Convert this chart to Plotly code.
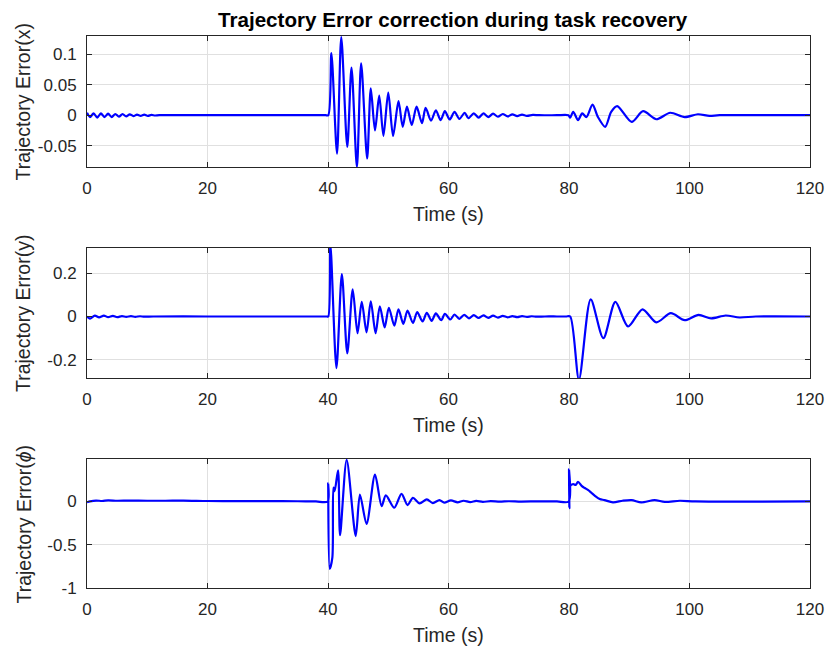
import plotly.graph_objects as go

# ---------------- data ----------------
x_time = [0, 0.5, 1.1, 1.7, 2.3, 2.9, 3.5, 4.1, 4.7, 5.3, 5.9, 6.5, 7.1, 7.7, 8.3, 8.9, 9.5, 10.1,
          10.7, 11.3, 12, 20, 30, 38, 39.6, 40.05,
          40.56, 41.5, 42.2, 43.2, 43.9, 44.8, 45.5, 46.5, 47.1, 47.8, 48.5, 49.2, 50.0, 50.8,
          51.7, 52.4, 53.1, 53.9, 54.7, 55.6, 56.2, 57.1, 57.9, 58.7, 59.4, 60.2, 61.0, 61.8,
          62.7, 63.3, 64.2, 65.0, 65.8, 66.6, 67.4, 68.2, 69.0, 69.8, 70.6, 71.4, 72.2, 73.0,
          74.0, 75.0, 78, 79.9,
          80.2, 80.7, 81.5, 82.2, 82.9, 83.9, 84.8, 86.0, 87.0, 88.0, 90.4, 92.3, 94.5, 96.8,
          99.2, 101.4, 103.3, 105, 120]
x_err = [0.004, -0.003, 0.003, -0.004, 0.003, -0.003, 0.0025, -0.003, 0.002, -0.0025, 0.002, -0.002,
         0.0015, -0.0015, 0.001, -0.001, 0.001, -0.001, 0.0005, -0.0005, 0, 0, 0, 0, 0, 0,
         0.102, -0.063, 0.128, -0.052, 0.078, -0.085, 0.085, -0.071, 0.044, -0.025, 0.032, -0.034,
         0.037, -0.034, 0.023, -0.019, 0.014, -0.016, 0.014, -0.013, 0.012, -0.009, 0.008, -0.008,
         0.0066, -0.007, 0.0055, -0.006, 0.004, -0.005, 0.003, -0.004, 0.003, -0.003, 0.0025,
         -0.0025, 0.002, -0.002, 0.0015, -0.0015, 0.001, -0.001, 0.0005, 0, 0, 0,
         -0.004, 0.0055, -0.008, 0.003, -0.003, 0.0175, -0.003, -0.019, 0.0055, 0.015, -0.011,
         0.0066, -0.0066, 0.004, -0.003, 0.0016, -0.001, 0, 0]

y_time = [0, 0.5, 1.3, 2.0, 2.8, 3.5, 4.3, 5.0, 5.8, 6.5, 7.3, 8.0, 8.8, 9.5, 11, 20, 30, 37,
          39.2, 39.8, 40.05,
          40.4, 41.4, 42.3, 43.2, 44.1, 44.9, 45.6, 46.4, 47.1, 47.9, 48.6, 49.4, 50.1, 51.0,
          51.7, 52.5, 53.2, 54.1, 54.8, 55.7, 56.4, 57.2, 57.9, 58.8, 59.4, 60.3, 61.0, 61.8,
          62.6, 63.4, 64.2, 65.0, 65.8, 66.6, 67.4, 68.2, 69.0, 69.8, 70.6, 71.4, 72.2, 73.0,
          73.8, 74.6, 76, 78, 79.5, 80.2,
          81.65, 83.6, 85.7, 87.7, 89.8, 92.2, 94.5, 96.9, 99.2, 101.5, 103.6, 106.0, 108.3,
          111, 120]
y_err = [0, -0.01, 0.004, -0.004, 0.004, -0.003, 0.003, -0.003, 0.002, -0.002, 0.0015, -0.0015,
         0.001, -0.001, 0, 0, 0, 0, 0, 0, 0,
         0.33, -0.2375, 0.195, -0.17, 0.125, -0.077, 0.067, -0.073, 0.07, -0.077, 0.047, -0.05,
         0.04, -0.042, 0.033, -0.034, 0.027, -0.03, 0.02, -0.023, 0.017, -0.02, 0.014, -0.017,
         0.0125, -0.014, 0.009, -0.011, 0.008, -0.009, 0.006, -0.007, 0.005, -0.006, 0.004,
         -0.005, 0.003, -0.004, 0.002, -0.003, 0.0015, -0.002, 0.001, -0.001, 0, 0, 0, 0,
         -0.29, 0.079, -0.10, 0.067, -0.046, 0.033, -0.027, 0.015, -0.017, 0.0076, -0.009,
         0.0046, -0.0046, 0, 0]

phi_time = [0, 0.5, 1.5, 2.5, 3.5, 5, 7, 10, 13, 16, 20, 25, 30, 35, 38, 39.95,
            40.02, 40.28, 40.72, 40.9, 41.1, 41.67, 42.0, 43.1, 44.6, 45.3, 46.4, 47.8, 48.9,
            49.6, 51.0, 52.2, 53.2, 54.1, 55.2, 56.4, 57.4, 58.5, 59.3, 60.4, 61.5, 62.5, 63.6,
            64.6, 65.7, 67, 68.5, 70, 72, 75, 78, 79.95,
            80.0, 80.06, 80.2, 80.7, 81.1, 81.5, 82.1, 82.6, 83.2, 83.7, 84.3, 85.1, 85.9, 87.3,
            88.9, 90.4, 92.0, 94.2, 95.9, 98.4, 101, 120]
phi_err = [-0.01, 0.0, 0.01, 0.005, 0.012, 0.008, 0.01, 0.008, 0.008, 0.01, 0.005, 0.003, 0.003,
           0.002, 0.0, 0.0,
           0.21, -0.78, -0.65, 0.16, 0.12, 0.36, -0.39, 0.48, -0.40, 0.08, -0.26, 0.31, -0.054,
           0.069, -0.073, 0.088, -0.042, 0.042, -0.023, 0.023, -0.019, 0.015, -0.015, 0.011,
           -0.01, 0.008, -0.008, 0.006, -0.005, 0.004, -0.003, 0.002, -0.002, 0.001, 0.0, 0.0,
           0.37, -0.077, 0.18, 0.2, 0.19, 0.226, 0.18, 0.155, 0.13, 0.10, 0.065, 0.027, 0.015,
           -0.011, 0.008, 0.015, -0.011, 0.015, -0.005, 0.008, 0.0, 0.0]

x_ticks = [0, 20, 40, 60, 80, 100, 120]
x_tick_text = ["0", "20", "40", "60", "80", "100", "120"]
y1_ticks = [-0.05, 0, 0.05, 0.1]
y1_tick_text = ["-0.05", "0", "0.05", "0.1"]
y2_ticks = [-0.2, 0, 0.2]
y2_tick_text = ["-0.2", "0", "0.2"]
y3_ticks = [-1, -0.5, 0]
y3_tick_text = ["-1", "-0.5", "0"]

title_text = "Trajectory Error correction during task recovery"
x_label = "Time (s)"
y_labels = ["Trajectory Error(x)", "Trajectory Error(y)", "Trajectory Error(<i>ϕ</i>)"]

# ---------------- figure ----------------
W, H = 833, 649
FONT = "Liberation Sans, Arial, Helvetica, sans-serif"
AX_COL = "#262626"
GRID_COL = "#e0e0e0"
LINE_COL = "#0000ff"

def fx(px):
    return px / W

def fy(py):
    return 1 - py / H

x_dom = [fx(87), fx(810)]
panels = [(36, 167), (248, 378), (459, 588)]

fig = go.Figure()
series = [(x_time, x_err), (y_time, y_err), (phi_time, phi_err)]
for i, (t, v) in enumerate(series):
    fig.add_trace(go.Scatter(
        x=t, y=v, mode="lines",
        line=dict(color=LINE_COL, width=2.2, shape="spline", smoothing=0.8),
        xaxis="x" if i == 0 else f"x{i+1}",
        yaxis="y" if i == 0 else f"y{i+1}",
        showlegend=False, hoverinfo="skip",
    ))

y_ranges = [[-0.085, 0.13], [-0.283, 0.315], [-1, 0.49]]
y_tv = [(y1_ticks, y1_tick_text), (y2_ticks, y2_tick_text), (y3_ticks, y3_tick_text)]

common = dict(
    showline=True, linecolor=AX_COL, linewidth=1, mirror="ticks",
    ticks="inside", ticklen=5, tickcolor=AX_COL, tickwidth=1,
    showgrid=True, gridcolor=GRID_COL, gridwidth=1, zeroline=False,
    tickfont=dict(family=FONT, size=17, color=AX_COL), automargin=False,
)

layout = dict(
    width=W, height=H, margin=dict(l=0, r=0, t=0, b=0, autoexpand=False),
    paper_bgcolor="white", plot_bgcolor="white",
    font=dict(family=FONT, color=AX_COL),
)
annotations = []
for i, (top, bot) in enumerate(panels):
    sfx = "" if i == 0 else str(i + 1)
    layout["xaxis" + sfx] = dict(
        domain=x_dom, range=[0, 120], tickmode="array", tickvals=x_ticks,
        ticktext=x_tick_text, anchor="y" + sfx, ticklabelstandoff=6, **common)
    layout["yaxis" + sfx] = dict(
        domain=[fy(bot), fy(top)], range=y_ranges[i], tickmode="array",
        tickvals=y_tv[i][0], ticktext=y_tv[i][1], anchor="x" + sfx,
        ticklabelstandoff=6, **common)
    annotations.append(dict(
        text=x_label, x=fx(448.5), y=fy(bot + 47), xref="paper", yref="paper",
        xanchor="center", yanchor="middle", showarrow=False,
        font=dict(family=FONT, size=19.5, color=AX_COL)))
    annotations.append(dict(
        text=y_labels[i], x=fx(23), y=fy((top + bot) / 2 + 1), xref="paper", yref="paper",
        xanchor="center", yanchor="middle", showarrow=False, textangle=-90,
        font=dict(family=FONT, size=19.5, color=AX_COL)))

annotations.append(dict(
    text="<b>" + title_text + "</b>", x=fx(453), y=fy(20), xref="paper", yref="paper",
    xanchor="center", yanchor="middle", showarrow=False,
    font=dict(family=FONT, size=20.6, color="black")))
layout["annotations"] = annotations

fig.update_layout(**layout)
fig.write_html("out.html")
